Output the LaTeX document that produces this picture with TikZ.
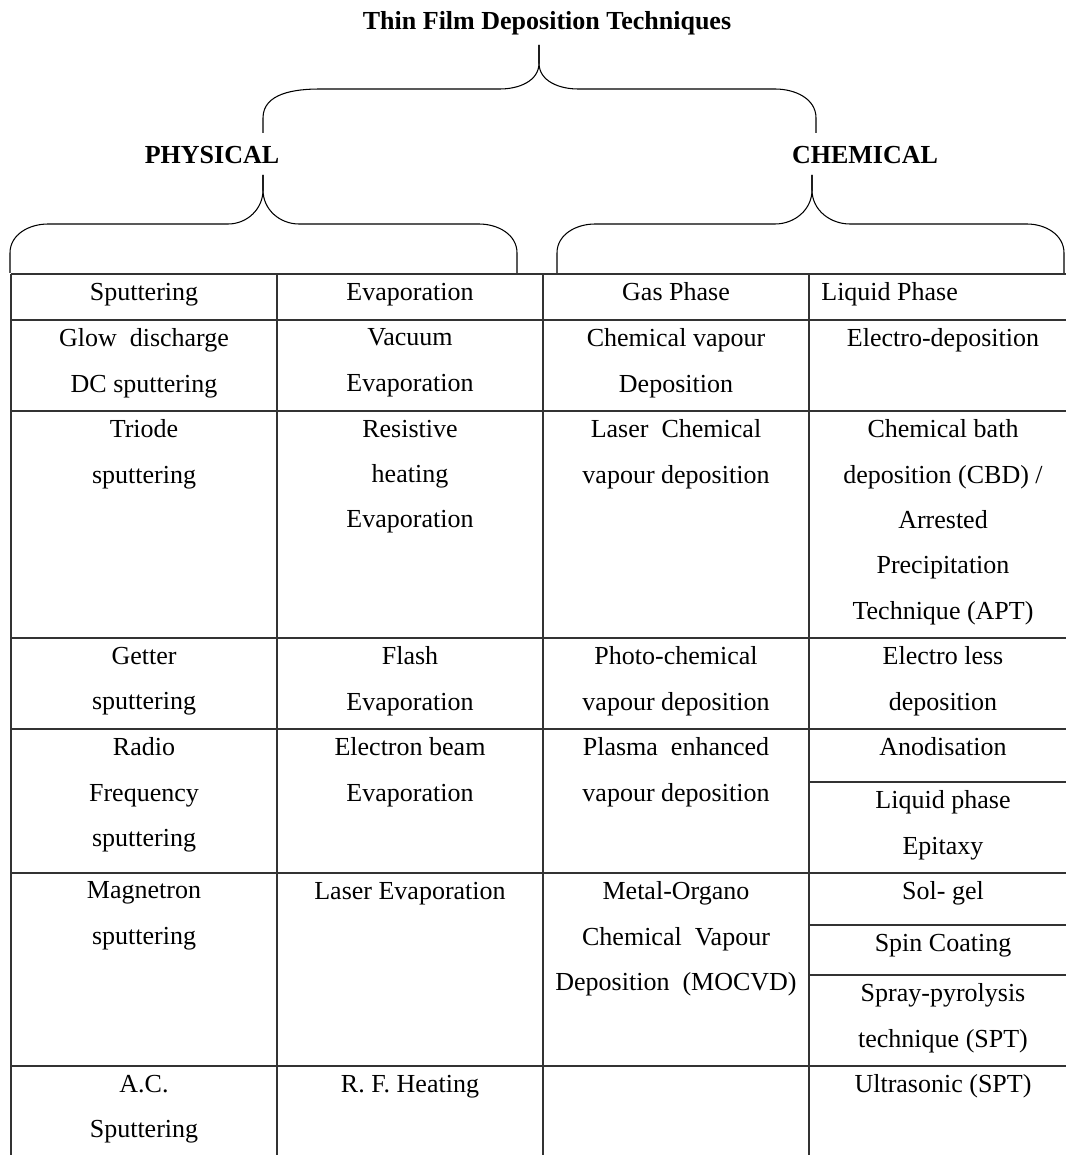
\documentclass[tikz,border=0pt]{standalone}
\usepackage{fontspec}
\setmainfont{Liberation Serif}

\begin{document}
\begin{tikzpicture}[x = 0.02cm, y = 0.02cm,
    brace/.style = {line width = 0.6pt},
    rule/.style = {line width = 0.8pt, draw = black!80},
    cell/.style = {anchor = north, inner sep = 0pt, align = center,
        font = \fontsize{14.8}{25.8}\selectfont},
    head/.style = {anchor = base, inner sep = 0pt,
        font = \fontsize{14.8}{18}\selectfont\bfseries}]

    \useasboundingbox (0, 0) rectangle (1066, -1155);

    % Positions for the tips of the braces.
    \coordinate (T) at (539, -45);
    \coordinate (P) at (263, -175);
    \coordinate (C) at (812, -175);

    % Title and the two branches.
    \node[head] (title) at (547, -30) {Thin Film Deposition Techniques};
    \node[head] (phys) at (212, -164) {PHYSICAL};
    \node[head] (chem) at (865, -164) {CHEMICAL};

    % Top brace.
    \draw[brace] (T) -- ++(0, -18) to[out = -90, in = 0] (500, -89)
        -- (320, -89) to[out = 180, in = 90] (263, -118) -- (263, -133);
    \draw[brace] (T) -- ++(0, -18) to[out = -90, in = 180] (578, -89)
        -- (775, -89) to[out = 0, in = 90] (816, -118) -- (816, -133);

    % Brace under PHYSICAL.
    \draw[brace] (P) -- ++(0, -15) to[out = -90, in = 0] (228, -224)
        -- (48, -224) to[out = 180, in = 90] (10, -253) -- (10, -273);
    \draw[brace] (P) -- ++(0, -15) to[out = -90, in = 180] (299, -224)
        -- (479, -224) to[out = 0, in = 90] (517, -253) -- (517, -273);

    % Brace under CHEMICAL.
    \draw[brace] (C) -- ++(0, -15) to[out = -90, in = 0] (775, -224)
        -- (595, -224) to[out = 180, in = 90] (557, -253) -- (557, -273);
    \draw[brace] (C) -- ++(0, -15) to[out = -90, in = 180] (850, -224)
        -- (1027, -224) to[out = 0, in = 90] (1064, -253) -- (1064, -273);

    % Rules of the table.
    \foreach \y in {274, 320, 411, 638, 729, 873, 1066}
        \draw[rule] (11, -\y) -- (1066, -\y);
    \foreach \y in {782, 925, 975}
        \draw[rule] (809, -\y) -- (1066, -\y);
    \foreach \x in {11, 277, 543, 809}
        \draw[rule] (\x, -274) -- (\x, -1155);

    % First row.
    \node[cell] (sput) at (144, -282.5) {Sputtering};
    \node[cell] (evap) at (410, -282.5) {Evaporation};
    \node[cell] (gas) at (676, -282.5) {Gas Phase};
    \node[cell, anchor = north west] (liquid) at (821, -282.5) {Liquid Phase};

    % Second row.
    \node[cell] (glow) at (144, -328.5) {Glow~~discharge\\DC sputtering};
    \node[cell] (vacuum) at (410, -328.5) {Vacuum\\Evaporation};
    \node[cell] (cvd) at (676, -328.5) {Chemical vapour\\Deposition};
    \node[cell] (electro) at (943, -328.5) {Electro-deposition};

    % Third row.
    \node[cell] (triode) at (144, -419.5) {Triode\\sputtering};
    \node[cell] (resist) at (410, -419.5) {Resistive\\heating\\Evaporation};
    \node[cell] (lcvd) at (676, -419.5) {Laser~~Chemical\\vapour deposition};
    \node[cell] (cbd) at (943, -419.5) {Chemical bath\\deposition (CBD) /\\Arrested\\Precipitation\\Technique (APT)};

    % Fourth row.
    \node[cell] (getter) at (144, -646.5) {Getter\\sputtering};
    \node[cell] (flash) at (410, -646.5) {Flash\\Evaporation};
    \node[cell] (pcvd) at (676, -646.5) {Photo-chemical\\vapour deposition};
    \node[cell] (eless) at (943, -646.5) {Electro less\\deposition};

    % Fifth row.
    \node[cell] (radio) at (144, -737.5) {Radio\\Frequency\\sputtering};
    \node[cell] (ebeam) at (410, -737.5) {Electron beam\\Evaporation};
    \node[cell] (pecvd) at (676, -737.5) {Plasma~~enhanced\\vapour deposition};
    \node[cell] (anod) at (943, -737.5) {Anodisation};
    \node[cell] (lpe) at (943, -790.5) {Liquid phase\\Epitaxy};

    % Sixth row.
    \node[cell] (magnet) at (144, -881.5) {Magnetron\\sputtering};
    \node[cell] (laser) at (410, -881.5) {Laser Evaporation};
    \node[cell] (mocvd) at (676, -881.5) {Metal-Organo\\Chemical~~Vapour\\Deposition~~(MOCVD)};
    \node[cell] (solgel) at (943, -881.5) {Sol- gel};
    \node[cell] (spin) at (943, -933.5) {Spin Coating};
    \node[cell] (spray) at (943, -983.5) {Spray-pyrolysis\\technique (SPT)};

    % Last row.
    \node[cell] (ac) at (144, -1074.5) {A.C.\\Sputtering};
    \node[cell] (rf) at (410, -1074.5) {R. F. Heating};
    \node[cell] (ultra) at (943, -1074.5) {Ultrasonic (SPT)};
\end{tikzpicture}
\end{document}
